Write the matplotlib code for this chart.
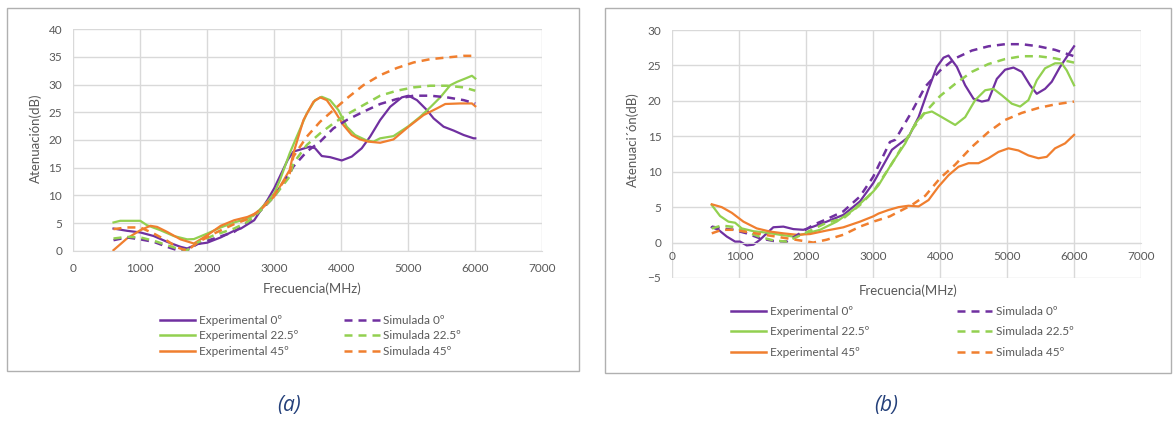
import matplotlib.pyplot as plt
from matplotlib.patches import Rectangle
from matplotlib.lines import Line2D

plt.rcParams['font.family'] = ['Lato', 'DejaVu Sans']

PURPLE = '#7030a0'
GREEN = '#92d050'
ORANGE = '#f07f2f'
TXT = '#595959'
GRID = '#d9d9d9'

# ---- (a) measured / simulated attenuation ----
a_exp0_f = [600, 800, 1000, 1200, 1400, 1600, 1700, 1850, 2000, 2200, 2400, 2500, 2700, 2900, 3000, 3200,
            3285, 3534, 3609, 3709, 3832, 4007, 4156, 4305, 4430, 4580, 4730, 4904, 5004, 5129, 5278, 5378,
            5527, 5677, 5826, 5975, 6000]
a_exp0 = [4.0, 3.6, 3.3, 2.65, 1.6, 0.7, 0.4, 1.2, 1.45, 2.4, 3.6, 4.0, 5.5, 9.2, 11.3, 16.4,
          17.9, 18.8, 18.5, 17.1, 16.9, 16.3, 17.0, 18.5, 20.6, 23.6, 26.0, 27.7, 28.0, 27.2, 25.4, 23.9,
          22.4, 21.7, 20.9, 20.3, 20.3]

a_exp22_f = [600, 700, 1000, 1100, 1300, 1500, 1700, 1800, 2000, 2200, 2400, 2600, 2700, 2900, 3000, 3086,
             3230, 3335, 3485, 3609, 3709, 3832, 3957, 4081, 4206, 4380, 4480, 4580, 4779, 5004, 5178, 5328,
             5477, 5627, 5727, 5851, 5950, 6000]
a_exp22 = [5.1, 5.4, 5.4, 4.6, 3.7, 2.65, 2.05, 2.1, 3.1, 4.2, 5.1, 5.8, 6.4, 8.9, 10.4, 12.8,
           17.6, 20.6, 24.8, 27.2, 27.8, 27.2, 25.4, 22.4, 20.9, 19.9, 19.7, 20.3, 20.7, 22.5, 24.2, 25.9,
           27.7, 29.9, 30.5, 31.1, 31.6, 31.1]

a_exp45_f = [600, 800, 1000, 1150, 1250, 1400, 1600, 1800, 2000, 2200, 2400, 2600, 2750, 2900, 3000, 3086,
             3230, 3285, 3435, 3584, 3684, 3783, 3907, 4031, 4156, 4280, 4405, 4580, 4779, 5004, 5228, 5427,
             5552, 5776, 5950, 6000]
a_exp45 = [0.1, 2.2, 3.7, 4.5, 4.3, 3.4, 2.05, 1.3, 2.8, 4.5, 5.5, 6.1, 6.9, 8.6, 9.8, 11.6,
           14.6, 17.6, 23.6, 26.9, 27.7, 27.2, 25.1, 22.7, 20.9, 20.1, 19.7, 19.5, 20.1, 22.4, 24.5, 25.7,
           26.5, 26.6, 26.6, 26.1]

a_sim_f = [600, 800, 1000, 1200, 1400, 1550, 1700, 1850, 2100, 2400, 2600, 2800, 3000, 3230,
           3285, 3485, 3684, 3882, 4081, 4330, 4580, 4829, 5078, 5328, 5577, 5826, 6000]
a_sim0 = [1.9, 2.4, 2.05, 1.6, 0.7, 0.1, 0.1, 1.2, 2.2, 3.4, 5.1, 7.3, 9.8, 14.0,
          15.2, 17.9, 19.7, 22.1, 23.6, 25.1, 26.5, 27.4, 28.0, 28.0, 27.7, 27.2, 26.6]
a_sim22 = [2.2, 2.5, 2.4, 1.8, 1.0, 0.4, 0.1, 1.45, 2.8, 4.0, 5.2, 7.3, 9.8, 13.4,
           15.8, 19.1, 21.2, 23.0, 24.6, 26.3, 28.0, 28.9, 29.5, 29.8, 29.8, 29.5, 28.9]
a_sim45 = [3.9, 4.2, 4.2, 3.1, 1.8, 0.6, 0.0, 1.45, 3.1, 4.8, 5.7, 7.5, 10.1, 14.0,
           17.0, 20.6, 23.3, 25.4, 27.5, 29.9, 31.7, 33.0, 34.0, 34.6, 34.9, 35.2, 35.2]

# ---- (b) measured / simulated attenuation ----
b_exp0_f = [587, 687, 811, 935, 1010, 1109, 1209, 1308, 1408, 1507, 1657, 1806, 1955, 2104, 2303, 2552,
            2801, 3000, 3249, 3279, 3527, 3677, 3826, 3950, 4050, 4124, 4249, 4373, 4498, 4622, 4721,
            4846, 4970, 5095, 5219, 5343, 5443, 5567, 5667, 5791, 5891, 6000]
b_exp0 = [2.16, 1.8, 0.85, 0.14, 0.14, -0.4, -0.3, 0.4, 1.3, 2.16, 2.25, 1.9, 1.8, 2.25, 2.95, 3.9,
          5.8, 8.4, 12.6, 13.1, 14.9, 17.7, 21.7, 24.8, 26.1, 26.4, 24.8, 22.2, 20.3, 19.9, 20.1,
          23.1, 24.4, 24.7, 24.1, 22.2, 21.0, 21.7, 22.7, 24.8, 26.2, 27.7]

b_exp22_f = [587, 711, 836, 935, 1035, 1209, 1408, 1607, 1806, 2005, 2204, 2453, 2701, 3000, 3080,
             3279, 3478, 3627, 3751, 3876, 4025, 4224, 4373, 4522, 4672, 4796, 4920, 5070, 5194, 5318,
             5443, 5567, 5716, 5816, 5891, 6000]
b_exp22 = [5.3, 3.75, 2.95, 2.8, 2.0, 1.6, 1.4, 1.1, 0.85, 1.3, 1.8, 2.95, 4.6, 7.2, 8.1,
           11.2, 14.0, 16.8, 18.2, 18.5, 17.7, 16.6, 17.7, 20.1, 21.5, 21.7, 20.8, 19.6, 19.2, 20.1,
           22.9, 24.6, 25.3, 25.3, 24.3, 22.2]

b_exp45_f = [587, 736, 886, 1060, 1259, 1458, 1657, 1856, 2055, 2303, 2552, 2801, 3000, 3080, 3229,
             3378, 3527, 3677, 3826, 3975, 4124, 4274, 4423, 4572, 4721, 4871, 5020, 5169, 5318, 5468,
             5592, 5716, 5866, 6000]
b_exp45 = [5.4, 5.0, 4.2, 2.95, 2.0, 1.55, 1.3, 1.1, 1.2, 1.7, 2.15, 2.95, 3.7, 4.1, 4.6,
           5.0, 5.2, 5.1, 6.0, 7.9, 9.5, 10.7, 11.2, 11.2, 11.9, 12.8, 13.3, 13.0, 12.3, 11.9,
           12.1, 13.3, 14.0, 15.2]

b_sim_f = [587, 736, 910, 1109, 1308, 1507, 1706, 1905, 2104, 2303, 2552, 2801, 3000, 3249,
           3328, 3577, 3776, 4000, 4224, 4473, 4721, 4970, 5219, 5468, 5716, 6000]
b_sim0 = [2.25, 2.0, 1.8, 1.3, 0.6, 0.23, 0.14, 1.3, 2.5, 3.3, 4.4, 6.5, 9.3, 14.2,
          14.5, 18.5, 22.0, 24.3, 26.0, 27.1, 27.7, 28.0, 28.0, 27.7, 27.2, 26.3]
b_sim22 = [2.0, 2.4, 2.2, 1.5, 0.8, 0.3, 0.14, 1.0, 1.9, 2.8, 3.4, 5.3, 7.2, 10.7,
           11.9, 15.9, 18.4, 20.7, 22.4, 24.1, 25.2, 25.9, 26.3, 26.3, 26.0, 25.4]
b_sim45 = [1.3, 1.8, 1.8, 1.5, 1.2, 0.9, 0.6, 0.3, 0.0, 0.4, 1.1, 2.25, 2.95, 3.7,
           4.1, 5.3, 6.6, 9.1, 11.0, 13.5, 15.6, 17.3, 18.3, 19.0, 19.5, 19.9]

x_ticks = [0, 1000, 2000, 3000, 4000, 5000, 6000, 7000]
labels_exp = ['Experimental 0º', 'Experimental 22.5º', 'Experimental 45º']
labels_sim = ['Simulada 0º', 'Simulada 22.5º', 'Simulada 45º']
colors = [PURPLE, GREEN, ORANGE]
DASH = (0, (3.2, 2.4))

fig = plt.figure(figsize=(11.73, 4.21), dpi=100)

# panel frames
fig.add_artist(Rectangle((0.006, 0.119), 0.4876, 0.862, transform=fig.transFigure,
                         fill=False, edgecolor='#b0b0b0', lw=1))
fig.add_artist(Rectangle((0.5158, 0.114), 0.4825, 0.867, transform=fig.transFigure,
                         fill=False, edgecolor='#b0b0b0', lw=1))


def style_axes(ax):
    ax.set_xlim(0, 7000)
    ax.set_xticks(x_ticks)
    ax.grid(True, color=GRID, lw=1)
    ax.set_axisbelow(True)
    for s in ['top', 'right', 'left']:
        ax.spines[s].set_visible(False)
    ax.spines['bottom'].set_color(GRID)
    ax.tick_params(length=0, labelsize=8.5, labelcolor=TXT)


# (a)
ax1 = fig.add_axes([0.0625, 0.4045, 0.3998, 0.526])
style_axes(ax1)
ax1.set_ylim(0, 40)
ax1.set_yticks(range(0, 41, 5))
ax1.tick_params(axis='x', pad=9)
ax1.tick_params(axis='y', pad=8)

ax1.plot(a_exp0_f, a_exp0, color=PURPLE, lw=1.6)
ax1.plot(a_exp22_f, a_exp22, color=GREEN, lw=1.6)
ax1.plot(a_exp45_f, a_exp45, color=ORANGE, lw=1.6)
ax1.plot(a_sim_f, a_sim0, color=PURPLE, lw=1.8, ls=DASH)
ax1.plot(a_sim_f, a_sim22, color=GREEN, lw=1.8, ls=DASH)
ax1.plot(a_sim_f, a_sim45, color=ORANGE, lw=1.8, ls=DASH)

fig.text(36 / 1173, 1 - 138 / 421, 'Atenuación(dB)', rotation=90, ha='center', va='center',
         fontsize=9.5, color=TXT)
fig.text(312 / 1173, 1 - 289 / 421, 'Frecuencia(MHz)', ha='center', va='center',
         fontsize=9.5, color=TXT)

# (b)
ax2 = fig.add_axes([0.5733, 0.3397, 0.3994, 0.589])
style_axes(ax2)
ax2.set_ylim(-5, 30)
ax2.set_yticks(range(-5, 31, 5))
ax2.spines['bottom'].set_position(('data', 0))
ax2.tick_params(axis='x', pad=6)
ax2.tick_params(axis='y', pad=8)

ax2.plot(b_exp0_f, b_exp0, color=PURPLE, lw=1.6)
ax2.plot(b_exp22_f, b_exp22, color=GREEN, lw=1.6)
ax2.plot(b_exp45_f, b_exp45, color=ORANGE, lw=1.6)
ax2.plot(b_sim_f, b_sim0, color=PURPLE, lw=1.8, ls=DASH)
ax2.plot(b_sim_f, b_sim22, color=GREEN, lw=1.8, ls=DASH)
ax2.plot(b_sim_f, b_sim45, color=ORANGE, lw=1.8, ls=DASH)

fig.text(633 / 1173, 1 - 140 / 421, 'Atenuaci´ón(dB)', rotation=90, ha='center', va='center',
         fontsize=9.5, color=TXT)
fig.text(908 / 1173, 1 - 291 / 421, 'Frecuencia(MHz)', ha='center', va='center',
         fontsize=9.5, color=TXT)

# legends
handles = [Line2D([], [], color=c, lw=1.8) for c in colors] + \
          [Line2D([], [], color=c, lw=1.8, ls=DASH) for c in colors]
names = labels_exp + labels_sim

fig.legend(handles, names, ncol=2, frameon=False, fontsize=8.5, labelcolor=TXT,
           loc='upper left', bbox_to_anchor=(160 / 1173, 1 - 315 / 421),
           handlelength=3.0, handletextpad=0.3, columnspacing=3.9, labelspacing=0.38,
           borderaxespad=0, borderpad=0)
fig.legend(handles, names, ncol=2, frameon=False, fontsize=8.5, labelcolor=TXT,
           loc='upper left', bbox_to_anchor=(731 / 1173, 1 - 306 / 421),
           handlelength=3.0, handletextpad=0.3, columnspacing=7.4, labelspacing=0.8,
           borderaxespad=0, borderpad=0)

# panel captions
fig.text(289 / 1173, 1 - 405 / 421, '(a)', ha='center', va='center', fontsize=15,
         style='italic', color='#24407a', family=['Open Sans', 'DejaVu Sans'])
fig.text(886 / 1173, 1 - 405 / 421, '(b)', ha='center', va='center', fontsize=15,
         style='italic', color='#24407a', family=['Open Sans', 'DejaVu Sans'])

fig.savefig('out.png', dpi=100, facecolor='white')
